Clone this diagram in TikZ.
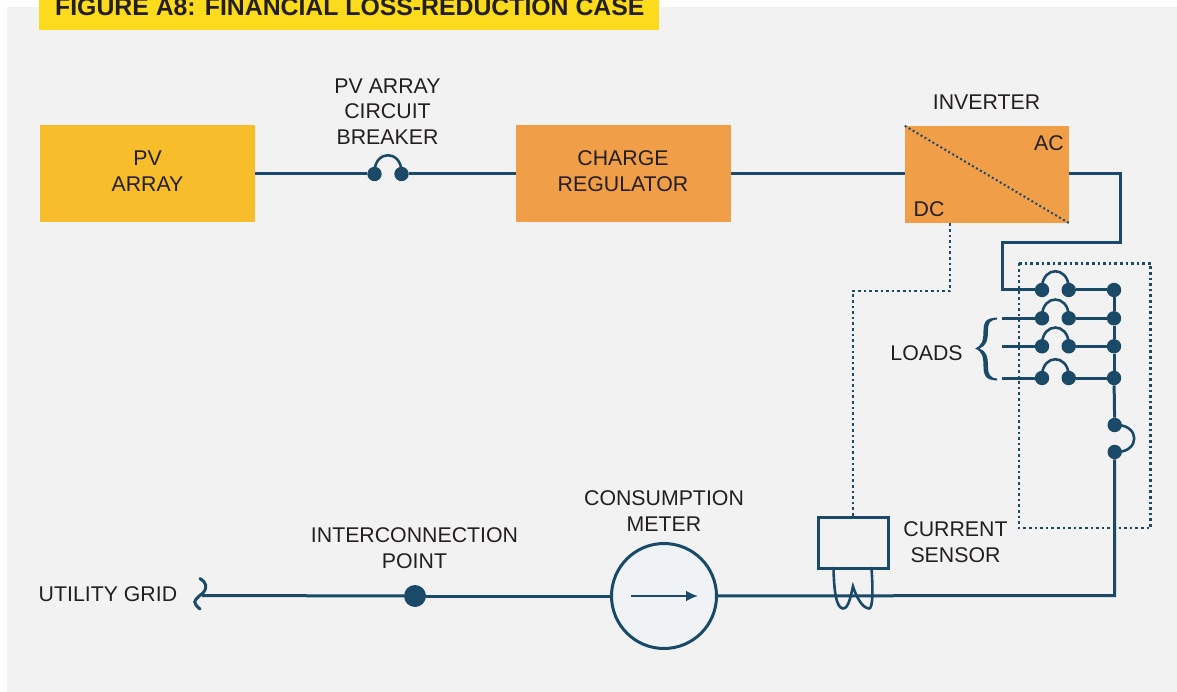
\documentclass[tikz,border=0pt]{standalone}
\usepackage{fontspec}
\setmainfont{Liberation Sans}
\usetikzlibrary{arrows.meta,calc}
\definecolor{wire}{HTML}{1A4A68}
\definecolor{panel}{HTML}{F2F2F2}
\definecolor{banner}{HTML}{FBDB1B}
\definecolor{pvfill}{HTML}{F7BD2A}
\definecolor{orangefill}{HTML}{F09E48}
\definecolor{ink}{HTML}{231F20}
\definecolor{meterfill}{HTML}{EFF3F5}
\tikzset{
  label/.style={text=ink,align=center,inner sep=0pt,font=\fontsize{21.3}{25.7}\selectfont},
  block/.style={inner sep=0pt,minimum width=#1,minimum height=97pt},
  conn/.style={draw=wire,line width=3pt,line join=miter},
  thinconn/.style={draw=wire,line width=2.6pt,line cap=round},
  sig/.style={draw=wire,line width=2.6pt,dash pattern=on 2.6pt off 3pt},
  dot/.style={circle,fill=wire,inner sep=0pt,minimum size=14.4pt},
}
\begin{document}
\begin{tikzpicture}[x=1pt,y=-1pt]
\useasboundingbox (0,0) rectangle (1177,692);
\fill[panel] (7,7) rectangle (1177,692);
\node[inner sep=0pt,fill=banner,minimum width=620pt,minimum height=30pt] (banner) at (349,15) {};
\node[anchor=base west,inner sep=0pt,text=ink,font=\fontsize{24.8}{28}\selectfont\bfseries] (title) at (55,16) {FIGURE A8: FINANCIAL LOSS-REDUCTION CASE};

% blocks
\node[block=215pt,fill=pvfill] (pv) at (147.5,173.5) {};
\node[label] (pvt) at (147.5,171) {PV\\ARRAY};
\node[block=215pt,fill=orangefill] (reg) at (623.5,173.5) {};
\node[label] (regt) at (623,171) {CHARGE\\REGULATOR};
\node[block=164pt,fill=orangefill] (inv) at (987,174.5) {};
\draw[sig,line width=2pt,dash pattern=on 2pt off 2.6pt] (inv.north west) -- (inv.south east);
\node[label,anchor=base] (ac) at (1049,151) {AC};
\node[label,anchor=base] (dc) at (929,217) {DC};
\node[label] (invt) at (986.5,102.5) {INVERTER};
\node[label] (pvcb) at (387.5,111.5) {PV ARRAY\\CIRCUIT\\BREAKER};

% top line breaker
\node[dot] (b1) at (374.5,174) {};
\node[dot] (b2) at (401.5,174) {};
\draw[conn] (pv.east |- b1) -- (b1);
\draw[conn] (b2) -- (reg.west |- b2);
\draw[conn] (reg.east |- b1) -- (inv.west |- b1);
\draw[thinconn] ($(b1.center)+(0,-3)$) .. controls +(1,-21) and +(-1,-21) .. ($(b2.center)+(0,-3)$);

% breaker bank
\foreach \n/\y in {1/290,2/318.3,3/346.3,4/378}{
  \node[dot] (l\n) at (1042,\y) {};
  \node[dot] (r\n) at (1068.7,\y) {};
  \node[dot] (s\n) at (1114,\y) {};
  \draw[conn] (r\n) -- (s\n);
  \draw[thinconn] ($(l\n.center)+(0,-3)$) .. controls +(1,-21) and +(-1,-21) .. ($(r\n.center)+(0,-3)$);
}
\coordinate (ld2) at (1002,318.3);
\coordinate (ld3) at (1002,346.3);
\coordinate (ld4) at (1002,378);
\draw[conn] (ld2) -- (l2);
\draw[conn] (ld3) -- (l3);
\draw[conn] (ld4) -- (l4);
\coordinate (ac1) at (1120,174);
\coordinate (ac2) at (1120,242.3);
\coordinate (ac3) at (1002.3,242.3);
\coordinate (ac4) at (1002.3,290);
\draw[conn] (inv.east |- ac1) -- (ac1) -- (ac2) -- (ac3) -- (ac4) -- (l1);
\draw[conn] (s1) -- (s2);
\draw[conn] (s2) -- (s3);
\draw[conn] (s3) -- (s4);
\node[dot] (m1) at (1114.7,425) {};
\node[dot] (m2) at (1114.7,452) {};
\draw[conn] (s4) -- (m1);
\draw[thinconn] ($(m1.center)+(3,0)$) .. controls +(22,1) and +(22,-1) .. ($(m2.center)+(3,0)$);

% dotted enclosure
\draw[sig] (1019,263.5) rectangle (1150.7,528);

% brace
\fill[wire] (997,317.5) .. controls (985,318) and (983.5,323) .. (983.5,330) .. controls (983.5,341) and (982,345.5) .. (975,348.5) .. controls (982,351.5) and (983.5,356) .. (983.5,367) .. controls (983.5,375) and (985,380) .. (997,380.5) -- (997,378.5) .. controls (990,378) and (988,374) .. (988,367) .. controls (988,356) and (986,351) .. (979.5,348.5) .. controls (986,346) and (988,341) .. (988,330) .. controls (988,323) and (990,320) .. (997,319.5) -- cycle;
\node[label] (loads) at (926.5,353) {LOADS};

% bottom line
\node[label,anchor=base west] (grid) at (38.5,601) {UTILITY GRID};
\coordinate (sq) at (202,595.5);
\draw[thinconn,line width=3pt] (200,578.5) .. controls (206,582) and (208,587) .. (203,593) .. controls (198,597) and (192,601) .. (196,605) .. controls (197,607) and (199,608) .. (200,609);
\node[dot,minimum size=22pt] (ip) at (415,596) {};
\node[label] (ipt) at (414.5,548.5) {INTERCONNECTION\\POINT};
\node[circle,draw=wire,line width=3pt,fill=meterfill,minimum size=105pt,inner sep=0pt] (meter) at (664,596) {};
\node[label] (mt) at (664,511) {CONSUMPTION\\METER};
\coordinate (ma) at (631,596);
\coordinate (mb) at (698,596);
\draw[draw=wire,line width=2.4pt,-{Latex[length=12pt,width=11pt]}] (ma) -- (mb);
\coordinate (corner) at (1114.7,595.5);
\draw[conn] (sq) -- (ip);
\draw[conn] (ip) -- (meter);
\draw[conn] (meter) -- (corner) -- (m2);

% current sensor
\node[draw=wire,line width=3pt,minimum width=70pt,minimum height=51pt,inner sep=0pt] (sensor) at (853,542.5) {};
\node[label] (st) at (955.5,542.5) {CURRENT\\SENSOR};
\coordinate (sl) at (833.5,568);
\coordinate (sr) at (871.5,568);
\coordinate (sp) at (853,586.5);
\draw[thinconn] (sl) .. controls (834,590) and (836,608) .. (843,608.5) .. controls (849,608.5) and (851,594) .. (853,586.5) .. controls (856,596) and (862,608) .. (869,608.5) .. controls (873,608.5) and (873,590) .. (871.5,568);
\coordinate (d1) at (853,291);
\coordinate (d2) at (950,291);
\draw[sig] (sensor.north) -- (d1) -- (d2) -- (inv.south -| d2);
\end{tikzpicture}
\end{document}
